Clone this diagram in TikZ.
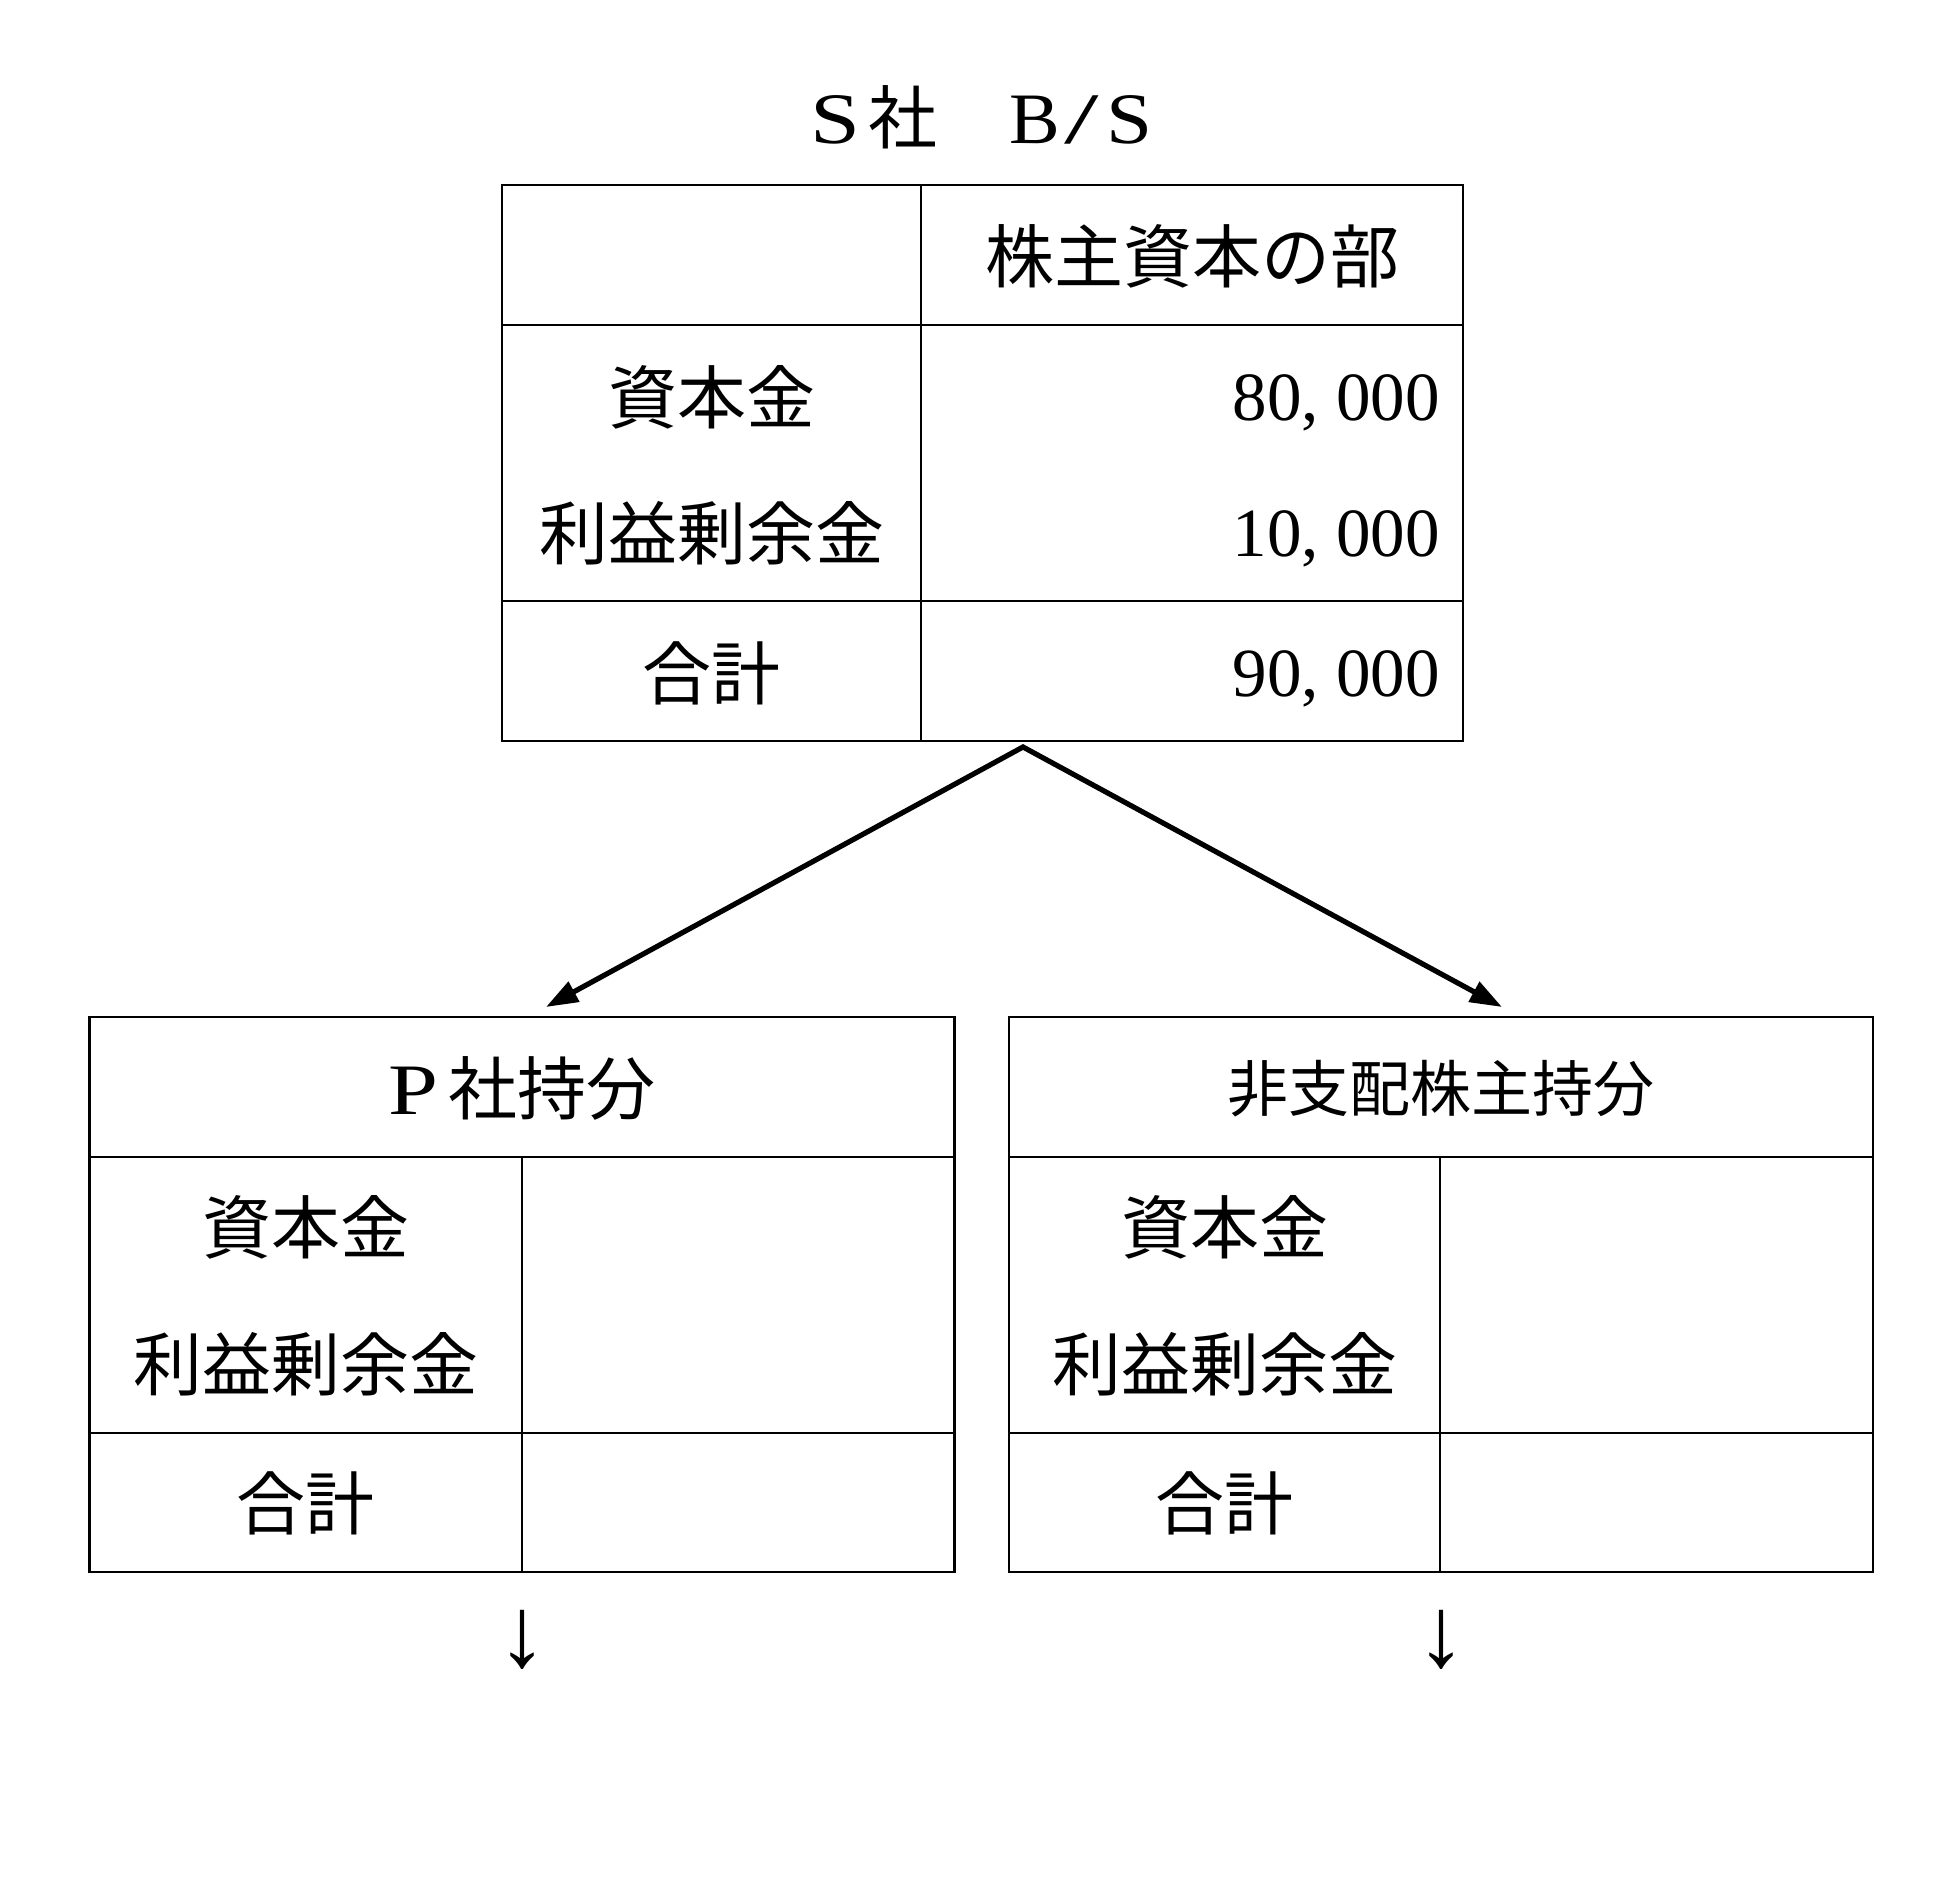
\documentclass[tikz,border=0pt]{standalone}
\usepackage{fontspec}
\setmainfont{Liberation Serif}
\newfontfamily\cjk{Noto Sans CJK JP}
\newfontfamily\lat{Liberation Serif}
\usetikzlibrary{arrows.meta}
\tikzset{
  tbl/.style={line width=1.1pt, line join=miter},
  jp/.style={font=\cjk\fontsize{34.5}{40}\selectfont, inner sep=0pt, text height=28.3pt, text depth=2.4pt},
  jpsmall/.style={font=\cjk\fontsize{30.5}{36}\selectfont, inner sep=0pt, text height=25pt, text depth=2.1pt},
  num/.style={font=\fontsize{34.5}{40}\selectfont, inner sep=0pt, text height=22.8pt, text depth=0pt},
  ttl/.style={font=\fontsize{34.5}{40}\selectfont, inner sep=0pt, text height=28.3pt, text depth=2.4pt},
  conn/.style={line width=2.6pt, line join=miter, {Triangle[length=16pt,width=11pt]}-{Triangle[length=16pt,width=11pt]}},
  down/.style={font=\fontsize{50}{56}\selectfont, inner sep=0pt}
}
\begin{document}
\begin{tikzpicture}[x=0.5pt,y=-0.5pt]
\useasboundingbox (0,0) rectangle (1949,1893);
\fill[white] (0,0) rectangle (1949,1893);

% title
\node[ttl] (title) at (982,118) {\scalebox{1.3}[1.05]{S}\hspace{4pt}{\cjk 社}\hspace{36pt}\scalebox{1.1}[1.05]{B}\hspace{2pt}\scalebox{1.8}[1.05]{/}\hspace{4pt}\scalebox{1.2}[1.05]{S}};

% top table
\coordinate (tNW) at (502,185);
\coordinate (tSE) at (1463,741);
\draw[tbl] (tNW) rectangle (tSE);
\draw[tbl] (921,185) -- (921,741);
\draw[tbl] (502,325) -- (1463,325);
\draw[tbl] (502,601) -- (1463,601);
\node[jp] (hdr) at (1192,257) {株主資本の部};
\node[jp] (s1) at (711.5,398) {資本金};
\node[jp] (s2) at (711.5,534) {利益剰余金};
\node[jp] (s3) at (711.5,674) {合計};
\node[num,anchor=east] (v1) at (1440,398) {80, 000};
\node[num,anchor=east] (v2) at (1440,534) {10, 000};
\node[num,anchor=east] (v3) at (1440,674) {90, 000};

% connectors
\coordinate (apex) at (1023,747);
\coordinate (tipL) at (546,1007);
\coordinate (tipR) at (1502,1007);
\draw[conn] (tipL) -- (apex) -- (tipR);

% bottom left table
\draw[tbl] (89.5,1017) rectangle (954.5,1572);
\draw[tbl] (89.5,1157) -- (954.5,1157);
\draw[tbl] (89.5,1433) -- (954.5,1433);
\draw[tbl] (522,1157) -- (522,1572);
\node[jp] (ph) at (522,1089) {{\lat\scalebox{1.3}[1.05]{P}}\hspace{5pt}社持分};
\node[jp] (p1) at (305.75,1228) {資本金};
\node[jp] (p2) at (305.75,1365) {利益剰余金};
\node[jp] (p3) at (305.75,1504) {合計};

% bottom right table
\draw[tbl] (1009,1017) rectangle (1873,1572);
\draw[tbl] (1009,1157) -- (1873,1157);
\draw[tbl] (1009,1433) -- (1873,1433);
\draw[tbl] (1440,1157) -- (1440,1572);
\node[jpsmall] (nh) at (1441,1089) {非支配株主持分};
\node[jp] (n1) at (1224.5,1228) {資本金};
\node[jp] (n2) at (1224.5,1365) {利益剰余金};
\node[jp] (n3) at (1224.5,1504) {合計};

% down arrows
\node[down] (dL) at (522,1640) {↓};
\node[down] (dR) at (1441,1640) {↓};
\end{tikzpicture}
\end{document}
